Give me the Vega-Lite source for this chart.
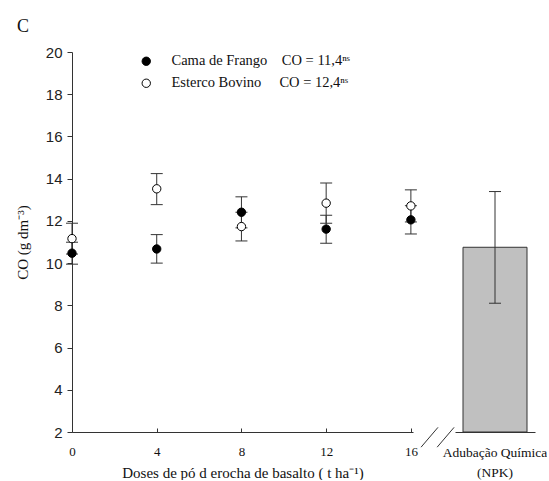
{
  "$schema": "https://vega.github.io/schema/vega-lite/v6.json",
  "autosize": {"type": "pad"},
  "padding": {"left": 15, "top": 18, "right": 0, "bottom": 0},
  "background": "white",
  "title": {
    "text": "C",
    "anchor": "start",
    "frame": "group",
    "dx": -55,
    "offset": 9,
    "font": "Liberation Serif",
    "fontSize": 18,
    "fontWeight": "normal",
    "color": "#111"
  },
  "config": {
    "view": {"stroke": null},
    "axis": {"grid": false, "domainColor": "#333", "tickColor": "#333"},
    "concat": {"spacing": 42}
  },
  "datasets": {
    "pontos": [
      {"serie": "Cama de Frango", "dose": 0, "co": 10.47, "lo": 9.95, "hi": 10.99},
      {"serie": "Cama de Frango", "dose": 4, "co": 10.67, "lo": 10.0, "hi": 11.35},
      {"serie": "Cama de Frango", "dose": 8, "co": 12.41, "lo": 11.67, "hi": 13.14},
      {"serie": "Cama de Frango", "dose": 12, "co": 11.61, "lo": 10.94, "hi": 12.27},
      {"serie": "Cama de Frango", "dose": 16, "co": 12.05, "lo": 11.38, "hi": 12.72},
      {"serie": "Esterco Bovino", "dose": 0, "co": 11.16, "lo": 10.43, "hi": 11.89},
      {"serie": "Esterco Bovino", "dose": 4, "co": 13.52, "lo": 12.77, "hi": 14.24},
      {"serie": "Esterco Bovino", "dose": 8, "co": 11.73, "lo": 11.05, "hi": 12.41},
      {"serie": "Esterco Bovino", "dose": 12, "co": 12.84, "lo": 11.89, "hi": 13.79},
      {"serie": "Esterco Bovino", "dose": 16, "co": 12.71, "lo": 11.95, "hi": 13.47}
    ],
    "npk": [
      {"trat": "Adubação Química (NPK)", "co": 10.75, "lo": 8.1, "hi": 13.39}
    ],
    "quebra": [
      {"xa": 16.48, "xb": 17.28, "ya": 1.28, "yb": 2.22},
      {"xa": 17.24, "xb": 18.04, "ya": 1.28, "yb": 2.22}
    ]
  },
  "hconcat": [
    {
      "width": 341,
      "height": 380,
      "data": {"name": "pontos"},
      "layer": [
        {
          "mark": {"type": "rule", "color": "#333", "strokeWidth": 1},
          "encoding": {
            "x": {
              "field": "dose",
              "type": "quantitative",
              "scale": {"domain": [0, 16.1], "nice": false, "zero": false},
              "axis": {
                "title": "Doses de pó d erocha de basalto ( t ha⁻¹)",
                "values": [0, 4, 8, 12, 16],
                "tickSize": -4,
                "labelFont": "Liberation Serif",
                "labelFontSize": 13,
                "labelColor": "#111",
                "labelPadding": 17,
                "labelFlush": false,
                "titleFont": "Liberation Serif",
                "titleFontSize": 15,
                "titleFontWeight": "normal",
                "titleColor": "#111",
                "titlePadding": 7
              }
            },
            "y": {
              "field": "lo",
              "type": "quantitative",
              "scale": {"domain": [2, 20], "nice": false, "zero": false},
              "axis": {
                "title": "CO (g dm⁻³)",
                "values": [2, 4, 6, 8, 10, 12, 14, 16, 18, 20],
                "tickSize": 5,
                "labelFont": "Liberation Sans",
                "labelFontSize": 15,
                "labelColor": "#222",
                "labelPadding": 5,
                "labelFlush": false,
                "titleFont": "Liberation Serif",
                "titleFontSize": 15,
                "titleFontWeight": "normal",
                "titleColor": "#111",
                "titlePadding": 15
              }
            },
            "y2": {"field": "hi"}
          }
        },
        {
          "mark": {"type": "tick", "orient": "horizontal", "size": 12, "thickness": 1, "color": "#333", "opacity": 1},
          "encoding": {
            "x": {"field": "dose", "type": "quantitative"},
            "y": {"field": "lo", "type": "quantitative"}
          }
        },
        {
          "mark": {"type": "tick", "orient": "horizontal", "size": 12, "thickness": 1, "color": "#333", "opacity": 1},
          "encoding": {
            "x": {"field": "dose", "type": "quantitative"},
            "y": {"field": "hi", "type": "quantitative"}
          }
        },
        {
          "mark": {"type": "point", "shape": "circle", "filled": true, "size": 70, "stroke": "black", "strokeWidth": 1, "opacity": 1},
          "encoding": {
            "x": {"field": "dose", "type": "quantitative"},
            "y": {"field": "co", "type": "quantitative"},
            "fill": {
              "field": "serie",
              "type": "nominal",
              "scale": {"domain": ["Cama de Frango", "Esterco Bovino"], "range": ["black", "white"]},
              "legend": {
                "orient": "none",
                "legendX": 67,
                "legendY": 2,
                "title": null,
                "direction": "vertical",
                "padding": 0,
                "labelFont": "Liberation Serif",
                "labelFontSize": 14.5,
                "labelColor": "#111",
                "labelOffset": 18,
                "labelLimit": 400,
                "rowPadding": 7,
                "symbolType": "circle",
                "symbolSize": 70,
                "symbolStrokeColor": "black",
                "symbolStrokeWidth": 1,
                "labelExpr": "datum.label == 'Cama de Frango' ? 'Cama de Frango\u00a0\u00a0\u00a0\u00a0CO = 11,4ⁿˢ' : 'Esterco Bovino\u00a0\u00a0\u00a0\u00a0\u00a0CO = 12,4ⁿˢ'"
              }
            }
          }
        },
        {
          "data": {"name": "quebra"},
          "mark": {"type": "rule", "color": "#333", "strokeWidth": 1},
          "encoding": {
            "x": {"field": "xa", "type": "quantitative"},
            "x2": {"field": "xb"},
            "y": {"field": "ya", "type": "quantitative"},
            "y2": {"field": "yb"}
          }
        }
      ]
    },
    {
      "width": 80,
      "height": 380,
      "data": {"name": "npk"},
      "layer": [
        {
          "mark": {"type": "bar", "fill": "#c0c0c0", "stroke": "#333", "strokeWidth": 1},
          "encoding": {
            "x": {
              "field": "trat",
              "type": "nominal",
              "scale": {"paddingInner": 0, "paddingOuter": 0.125},
              "axis": {
                "title": null,
                "ticks": false,
                "labelAngle": 0,
                "labelFont": "Liberation Serif",
                "labelFontSize": 13.5,
                "labelColor": "#111",
                "labelPadding": 13,
                "labelLineHeight": 20,
                "labelLimit": 300,
                "labelExpr": "['Adubação Química', '(NPK)']"
              }
            },
            "y": {
              "field": "co",
              "type": "quantitative",
              "scale": {"domain": [2, 20], "nice": false, "zero": false},
              "axis": null
            },
            "y2": {"datum": 2}
          }
        },
        {
          "mark": {"type": "rule", "color": "#333", "strokeWidth": 1},
          "encoding": {
            "x": {"field": "trat", "type": "nominal"},
            "y": {"field": "lo", "type": "quantitative"},
            "y2": {"field": "hi"}
          }
        },
        {
          "mark": {"type": "tick", "orient": "horizontal", "size": 12, "thickness": 1, "color": "#333", "opacity": 1},
          "encoding": {
            "x": {"field": "trat", "type": "nominal"},
            "y": {"field": "lo", "type": "quantitative"}
          }
        },
        {
          "mark": {"type": "tick", "orient": "horizontal", "size": 12, "thickness": 1, "color": "#333", "opacity": 1},
          "encoding": {
            "x": {"field": "trat", "type": "nominal"},
            "y": {"field": "hi", "type": "quantitative"}
          }
        }
      ]
    }
  ],
  "resolve": {"scale": {"y": "shared"}},
  "bounds": "flush"
}
